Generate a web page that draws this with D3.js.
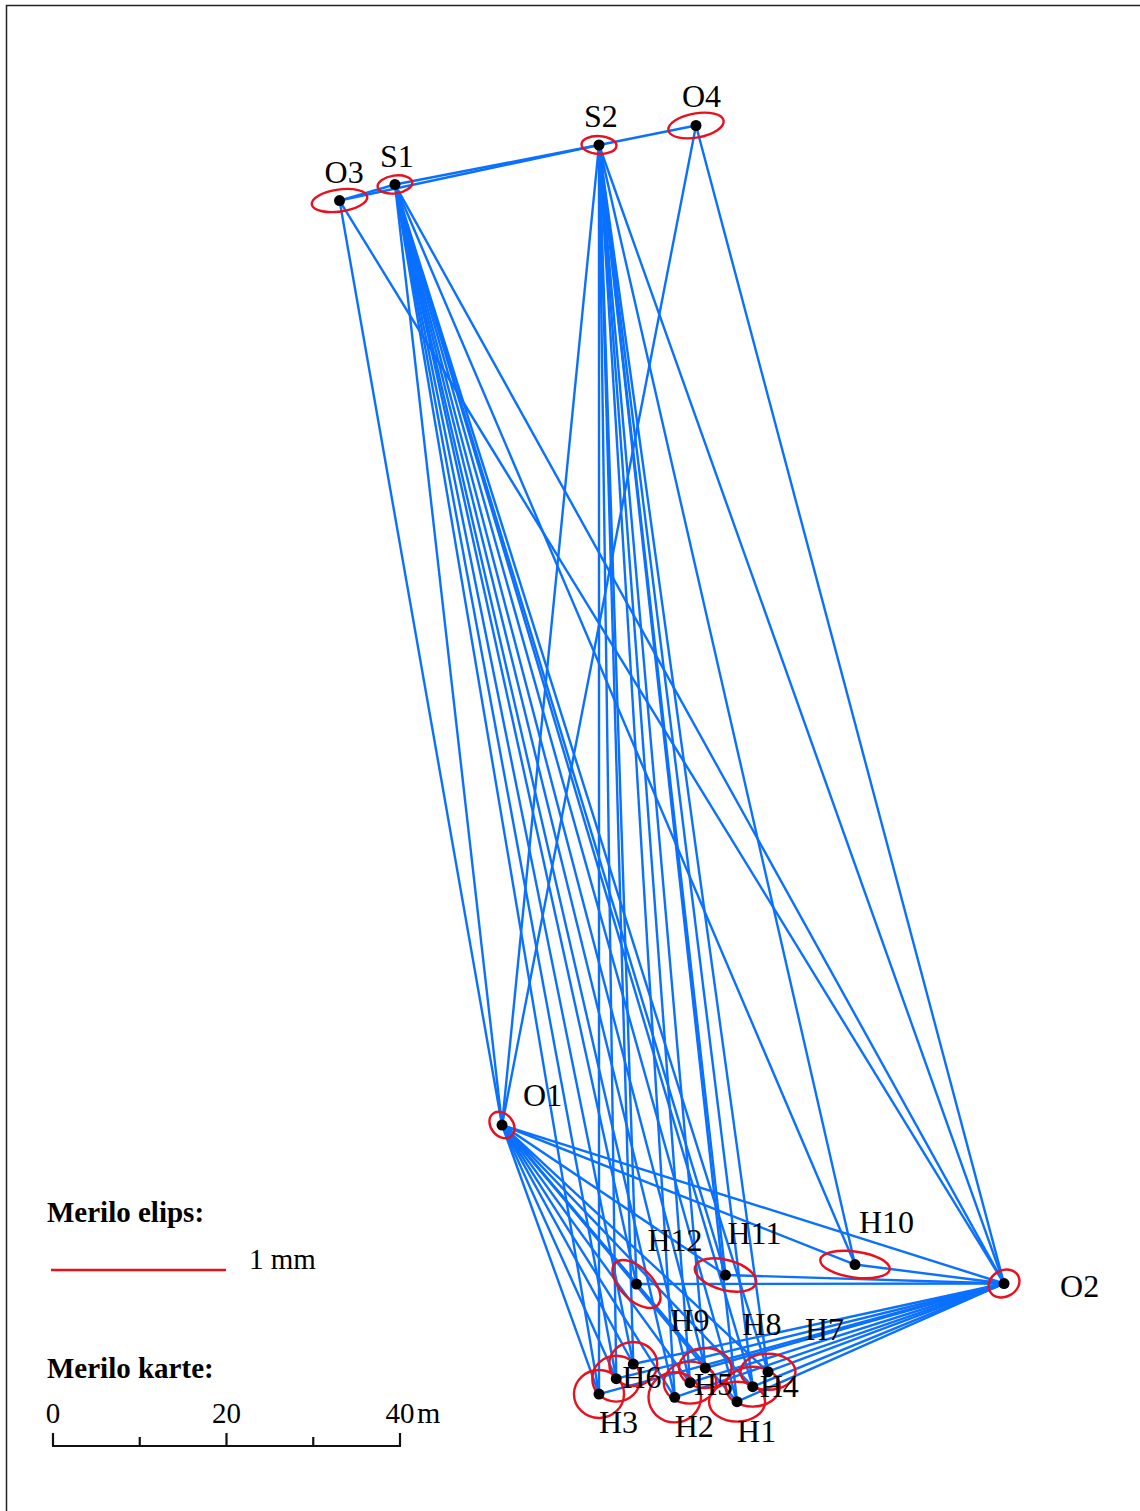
<!DOCTYPE html>
<html>
<head>
<meta charset="utf-8">
<script src="https://cdn.jsdelivr.net/npm/d3@7"></script>
<style>
  html, body { margin: 0; padding: 0; background: #fff; }
  svg { display: block; }
  text { font-family: "Liberation Serif", serif; fill: #000; }
</style>
</head>
<body>
<div id="chart"></div>
<script>
// point names and coordinates in metres
const names    = ['O1', 'O2', 'O3', 'O4', 'S1', 'S2', 'H1', 'H2', 'H3', 'H4', 'H5', 'H6', 'H7', 'H8', 'H9', 'H10', 'H11', 'H12'];
const eastings  = [51.76, 109.63, 33.03, 74.12, 39.42, 62.94, 78.85, 71.67, 62.94, 80.66, 73.43, 64.93, 82.42, 75.19, 66.89, 92.45, 77.52, 67.26];
const northings = [37.00, 18.73, 143.57, 152.22, 145.42, 149.97, 5.11, 5.61, 5.99, 6.84, 7.30, 7.76, 8.56, 8.99, 9.45, 20.92, 19.71, 18.67];

// error ellipses in mm: semi axes and rotation in degrees
const semiMajor = [0.083, 0.092, 0.160, 0.160, 0.100, 0.100, 0.160, 0.150, 0.143, 0.155, 0.150, 0.137, 0.157, 0.150, 0.137, 0.200, 0.180, 0.171];
const semiMinor = [0.063, 0.075, 0.063, 0.069, 0.051, 0.051, 0.114, 0.143, 0.137, 0.114, 0.120, 0.131, 0.103, 0.114, 0.126, 0.074, 0.086, 0.091];
const rotations = [50, -30, -8, -10, -8, 3, 0, 0, 0, 0, 0, 0, 0, 0, 0, 8, 15, 45];

// observed lines
const targets = ['H1', 'H2', 'H3', 'H4', 'H5', 'H6', 'H7', 'H8', 'H9', 'H10', 'H11', 'H12'];
const stations = ['S1', 'S2', 'O1', 'O2'];
const extraLines = [['O3', 'S1'], ['O3', 'S2'], ['S1', 'S2'], ['S2', 'O4'], ['O3', 'O1'], ['O3', 'O2'], ['O4', 'O1'], ['O4', 'O2'], ['S1', 'O1'], ['S1', 'O2'], ['S2', 'O1'], ['S2', 'O2'], ['O1', 'O2']];

const scaleTicks = [0, 10, 20, 30, 40];
const scaleLabels = [0, 20, 40];

const width = 1140;
const height = 1511;

const x = d3.scaleLinear().domain([0, 40]).range([53, 400]);
const y = d3.scaleLinear().domain([0, 40]).range([1446, 1099]);
const mm = d3.scaleLinear().domain([0, 1]).range([0, 175]);

const points = names.map((name, i) => ({
    name: name, e: eastings[i], n: northings[i],
    a: semiMajor[i], b: semiMinor[i], rot: rotations[i]
}));
const byName = new Map(points.map(p => [p.name, p]));

let lines = extraLines.slice();
stations.forEach(s => targets.forEach(t => lines.push([s, t])));

const svg = d3.select('#chart').append('svg')
    .attr('width', width)
    .attr('height', height);

// frame runs off the right and bottom of the picture
svg.append('path')
    .attr('d', `M6.5,${height} V5.5 H${width}`)
    .attr('fill', 'none')
    .attr('stroke', '#222')
    .attr('stroke-width', 1.5);

svg.append('g').selectAll('line')
    .data(lines)
    .enter().append('line')
    .attr('x1', d => x(byName.get(d[0]).e))
    .attr('y1', d => y(byName.get(d[0]).n))
    .attr('x2', d => x(byName.get(d[1]).e))
    .attr('y2', d => y(byName.get(d[1]).n))
    .attr('stroke', '#0a70ff')
    .attr('stroke-width', 2.4);

svg.append('g').selectAll('ellipse')
    .data(points)
    .enter().append('ellipse')
    .attr('transform', d => `translate(${x(d.e)},${y(d.n)}) rotate(${d.rot})`)
    .attr('rx', d => mm(d.a))
    .attr('ry', d => mm(d.b))
    .attr('fill', 'none')
    .attr('stroke', '#e8101c')
    .attr('stroke-width', 2.4);

svg.append('g').selectAll('circle')
    .data(points)
    .enter().append('circle')
    .attr('cx', d => x(d.e))
    .attr('cy', d => y(d.n))
    .attr('r', 5.5)
    .attr('fill', '#000');

// label offsets from the point, baseline start
const labelOffset = {
    O1: [21, -19], O2: [56, 13], O3: [-15, -17.5], O4: [-14, -18], S1: [-15, -17.5], S2: [-15, -18],
    H1: [0, 40], H2: [0, 40], H3: [0, 39], H4: [7, 10], H5: [4, 12], H6: [6, 9], H7: [37, -32], H8: [37, -33], H9: [37, -33],
    H10: [4, -32], H11: [2, -31], H12: [11, -33]
};

svg.append('g').selectAll('text')
    .data(points)
    .enter().append('text')
    .attr('x', d => x(d.e) + labelOffset[d.name][0])
    .attr('y', d => y(d.n) + labelOffset[d.name][1])
    .attr('font-size', 32)
    .text(d => d.name);

// legend
svg.append('text').attr('x', 47).attr('y', 1222).attr('font-size', 29).attr('font-weight', 'bold').text('Merilo elips:');
svg.append('line')
    .attr('x1', mm(0) + 51).attr('x2', mm(1) + 51)
    .attr('y1', 1270).attr('y2', 1270)
    .attr('stroke', '#e8101c').attr('stroke-width', 2.4);
svg.append('text').attr('x', 249).attr('y', 1269).attr('font-size', 29).text('1 mm');
svg.append('text').attr('x', 47).attr('y', 1378).attr('font-size', 29).attr('font-weight', 'bold').text('Merilo karte:');

// scale bar
const bar = svg.append('g').attr('fill', 'none').attr('stroke', '#111').attr('stroke-width', 2.2);
bar.append('line').attr('x1', x(0) - 1).attr('x2', x(40) + 1).attr('y1', 1446).attr('y2', 1446);
bar.selectAll('.tick')
    .data(scaleTicks)
    .enter().append('line')
    .attr('x1', d => x(d)).attr('x2', d => x(d))
    .attr('y1', 1446)
    .attr('y2', d => d % 20 === 0 ? 1433 : 1437);

svg.append('g').selectAll('text')
    .data(scaleLabels)
    .enter().append('text')
    .attr('x', d => x(d))
    .attr('y', 1423)
    .attr('font-size', 29)
    .attr('text-anchor', 'middle')
    .text(d => d);
svg.append('text').attr('x', 417).attr('y', 1423).attr('font-size', 30).text('m');
</script>
</body>
</html>
